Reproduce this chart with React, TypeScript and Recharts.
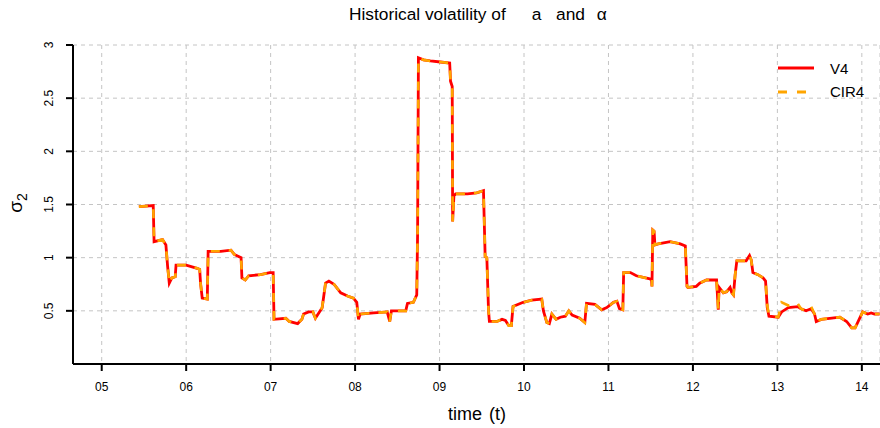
import React from "react";
import { LineChart, Line, XAxis, YAxis, CartesianGrid, Legend } from "recharts";

// decimal years (2005.44 = mid 2005)
const time = [
  2005.44, 2005.61, 2005.62, 2005.72, 2005.76, 2005.78, 2005.8, 2005.83, 2005.87, 2005.88,
  2006.0, 2006.13, 2006.16, 2006.17, 2006.19, 2006.25, 2006.26, 2006.41, 2006.53, 2006.57,
  2006.65, 2006.66, 2006.7, 2006.74, 2006.88, 2006.99, 2007.03, 2007.04, 2007.18, 2007.22,
  2007.32, 2007.37, 2007.39, 2007.45, 2007.5, 2007.53, 2007.61, 2007.65, 2007.69, 2007.75,
  2007.83, 2007.91, 2007.98, 2008.02, 2008.04, 2008.06, 2008.22, 2008.38, 2008.41, 2008.43,
  2008.6, 2008.62, 2008.69, 2008.73, 2008.74, 2008.75, 2008.81, 2008.89, 2009.01, 2009.12,
  2009.13, 2009.15, 2009.155, 2009.17, 2009.19, 2009.33, 2009.44, 2009.52, 2009.54, 2009.56,
  2009.58, 2009.59, 2009.68, 2009.74, 2009.78, 2009.82, 2009.85, 2009.87, 2009.99, 2010.09,
  2010.21, 2010.23, 2010.27, 2010.3, 2010.33, 2010.38, 2010.43, 2010.49, 2010.53, 2010.57,
  2010.66, 2010.72, 2010.74, 2010.84, 2010.92, 2010.98, 2011.06, 2011.1, 2011.13, 2011.17,
  2011.18, 2011.26, 2011.33, 2011.49, 2011.51, 2011.515, 2011.525, 2011.54, 2011.55, 2011.59,
  2011.73, 2011.85, 2011.91, 2011.93, 2011.94, 2012.04, 2012.08, 2012.16, 2012.28, 2012.3,
  2012.31, 2012.36, 2012.4, 2012.44, 2012.46, 2012.48, 2012.5, 2012.52, 2012.63, 2012.67,
  2012.69, 2012.71, 2012.77, 2012.83, 2012.86, 2012.88, 2012.9, 2013.01, 2013.05, 2013.13,
  2013.24, 2013.28, 2013.34, 2013.4, 2013.44, 2013.46, 2013.52, 2013.62, 2013.74, 2013.82,
  2013.88, 2013.92, 2013.95, 2014.01, 2014.07, 2014.11, 2014.15, 2014.21,
];

const v4 = [
  1.48, 1.49, 1.15, 1.17, 1.12, 0.92, 0.76, 0.81, 0.82, 0.93,
  0.93, 0.9, 0.89, 0.76, 0.62, 0.61, 1.06, 1.06, 1.07, 1.03,
  1.0, 0.81, 0.79, 0.83, 0.84, 0.86, 0.86, 0.42, 0.43, 0.4,
  0.38, 0.42, 0.47, 0.49, 0.49, 0.43, 0.53, 0.76, 0.78, 0.75,
  0.67, 0.64, 0.62, 0.58, 0.42, 0.47, 0.48, 0.49, 0.4, 0.5,
  0.5, 0.57, 0.58, 0.65, 1.22, 2.88, 2.86, 2.85, 2.84, 2.83,
  2.66, 2.61, 1.34, 1.58, 1.6, 1.6, 1.61, 1.63, 1.01, 1.0,
  0.5, 0.4, 0.4, 0.42, 0.41, 0.36, 0.36, 0.54, 0.58, 0.6,
  0.61, 0.5, 0.39, 0.38, 0.47, 0.42, 0.44, 0.45, 0.5, 0.46,
  0.43, 0.39, 0.57, 0.56, 0.51, 0.53, 0.58, 0.59, 0.52, 0.51,
  0.86, 0.86, 0.83, 0.8, 0.79, 0.73, 1.26, 1.25, 1.12, 1.13,
  1.15, 1.13, 1.11, 0.73, 0.72, 0.73, 0.76, 0.79, 0.79, 0.51,
  0.72, 0.67, 0.68, 0.72, 0.67, 0.65, 0.84, 0.97, 0.97, 1.02,
  0.98, 0.86, 0.84, 0.81, 0.78, 0.53, 0.45, 0.44, 0.49, 0.53,
  0.54, 0.52, 0.5, 0.52, 0.47, 0.4, 0.42, 0.43, 0.44, 0.4,
  0.34, 0.34, 0.39, 0.49, 0.47, 0.48, 0.47, 0.47,
];

const cir4 = [
  1.48, 1.49, 1.15, 1.17, 1.12, 0.92, 0.76, 0.81, 0.82, 0.93,
  0.93, 0.9, 0.89, 0.76, 0.62, 0.61, 1.06, 1.06, 1.07, 1.03,
  1.0, 0.81, 0.79, 0.83, 0.84, 0.86, 0.86, 0.42, 0.43, 0.4,
  0.38, 0.42, 0.47, 0.49, 0.49, 0.43, 0.53, 0.76, 0.78, 0.75,
  0.67, 0.64, 0.62, 0.58, 0.42, 0.47, 0.48, 0.49, 0.4, 0.5,
  0.5, 0.57, 0.58, 0.65, 1.22, 2.88, 2.86, 2.85, 2.84, 2.83,
  2.66, 2.61, 1.34, 1.58, 1.6, 1.6, 1.61, 1.63, 1.01, 1.0,
  0.5, 0.4, 0.4, 0.42, 0.41, 0.36, 0.36, 0.54, 0.58, 0.6,
  0.61, 0.5, 0.39, 0.38, 0.47, 0.42, 0.44, 0.45, 0.5, 0.46,
  0.43, 0.39, 0.57, 0.56, 0.51, 0.53, 0.58, 0.59, 0.52, 0.51,
  0.86, 0.86, 0.83, 0.8, 0.79, 0.73, 1.26, 1.25, 1.12, 1.13,
  1.15, 1.13, 1.11, 0.73, 0.72, 0.73, 0.76, 0.79, 0.79, 0.51,
  0.72, 0.67, 0.68, 0.72, 0.67, 0.65, 0.84, 0.97, 0.97, 1.02,
  0.98, 0.86, 0.84, 0.81, 0.78, 0.55, 0.46, 0.44, 0.58, 0.55,
  0.57, 0.52, 0.5, 0.54, 0.47, 0.4, 0.42, 0.43, 0.44, 0.4,
  0.34, 0.34, 0.39, 0.49, 0.47, 0.48, 0.47, 0.47,
];

const yearTicks = [2005, 2006, 2007, 2008, 2009, 2010, 2011, 2012, 2013, 2014];
const sigmaTicks = [0.5, 1, 1.5, 2, 2.5, 3];

const RED = "#ff0000";
const ORANGE = "#ffa500";
const FONT = "'Liberation Sans', Arial, Helvetica, sans-serif";

const data = time.map((t, i) => ({ t, V4: v4[i], CIR4: cir4[i] }));

function XTick(props: any) {
  const { x, y, payload } = props;
  return (
    <text x={x} y={y + 18} textAnchor="middle" fontSize={12} fontFamily={FONT} fill="#000">
      {String(payload.value).slice(2)}
    </text>
  );
}

function YTick(props: any) {
  const { x, y, payload } = props;
  const bx = x - 11;
  return (
    <text
      x={bx}
      y={y}
      transform={`rotate(-90, ${bx}, ${y})`}
      textAnchor="middle"
      fontSize={12}
      fontFamily={FONT}
      fill="#000"
    >
      {String(payload.value)}
    </text>
  );
}

const renderLegend = () => (
  <svg width={110} height={50} style={{ display: "block" }}>
    <line x1={8} y1={13} x2={44} y2={13} stroke={RED} strokeWidth={2.8} />
    <text x={60} y={18.5} fontSize={15} fontFamily={FONT} fill="#000">V4</text>
    <line x1={8} y1={37} x2={44} y2={37} stroke={ORANGE} strokeWidth={2.8} strokeDasharray="9 10" />
    <text x={60} y={42} fontSize={15} fontFamily={FONT} fill="#000">CIR4</text>
  </svg>
);

export default function App() {
  return (
    <div style={{ position: "absolute", left: 0, top: 0, width: 880, height: 428, background: "#fff" }}>
      <LineChart width={880} height={428} data={data} margin={{ top: 45, right: 0, bottom: 0, left: 0 }}>
        <CartesianGrid stroke="#c4c4c4" strokeDasharray="4 4" />
        <XAxis
          dataKey="t"
          type="number"
          domain={[2004.66, 2014.215]}
          ticks={yearTicks}
          allowDataOverflow
          height={64}
          axisLine={{ stroke: "#000", strokeWidth: 2 }}
          tickLine={{ stroke: "#000", strokeWidth: 2 }}
          tickSize={7}
          tick={<XTick />}
        />
        <YAxis
          type="number"
          domain={[0, 3]}
          ticks={sigmaTicks}
          allowDataOverflow
          width={73}
          axisLine={{ stroke: "#000", strokeWidth: 2 }}
          tickLine={{ stroke: "#000", strokeWidth: 2 }}
          tickSize={7}
          tick={<YTick />}
        />
        <Legend
          layout="vertical"
          align="center"
          verticalAlign="middle"
          content={renderLegend}
          wrapperStyle={{ position: "absolute", left: 770, top: 55, width: 110, height: 50 }}
        />
        <Line
          type="linear"
          dataKey="V4"
          stroke={RED}
          strokeWidth={2.8}
          dot={false}
          isAnimationActive={false}
        />
        <Line
          type="linear"
          dataKey="CIR4"
          stroke={ORANGE}
          strokeWidth={2.6}
          strokeDasharray="9 9"
          dot={false}
          isAnimationActive={false}
        />
      </LineChart>
      <svg
        width={880}
        height={428}
        style={{ position: "absolute", left: 0, top: 0, pointerEvents: "none" }}
        fontFamily={FONT}
      >
        <text x={349} y={20} fontSize={17.4} fill="#000" textLength={156.7} lengthAdjust="spacingAndGlyphs">
          Historical volatility of
        </text>
        <text x={531.7} y={20} fontSize={17.4} fill="#000">a</text>
        <text x={556} y={20} fontSize={17.4} fill="#000">and</text>
        <text x={596.7} y={20} fontSize={17.4} fill="#000">α</text>
        <text x={477} y={420} fontSize={18} fill="#000" textAnchor="middle" wordSpacing={2}>
          time (t)
        </text>
        <text x={22} y={203} transform="rotate(-90, 22, 203)" textAnchor="middle" fill="#000">
          <tspan fontSize={19}>σ</tspan>
          <tspan fontSize={14} dy={5}>2</tspan>
        </text>
      </svg>
    </div>
  );
}
